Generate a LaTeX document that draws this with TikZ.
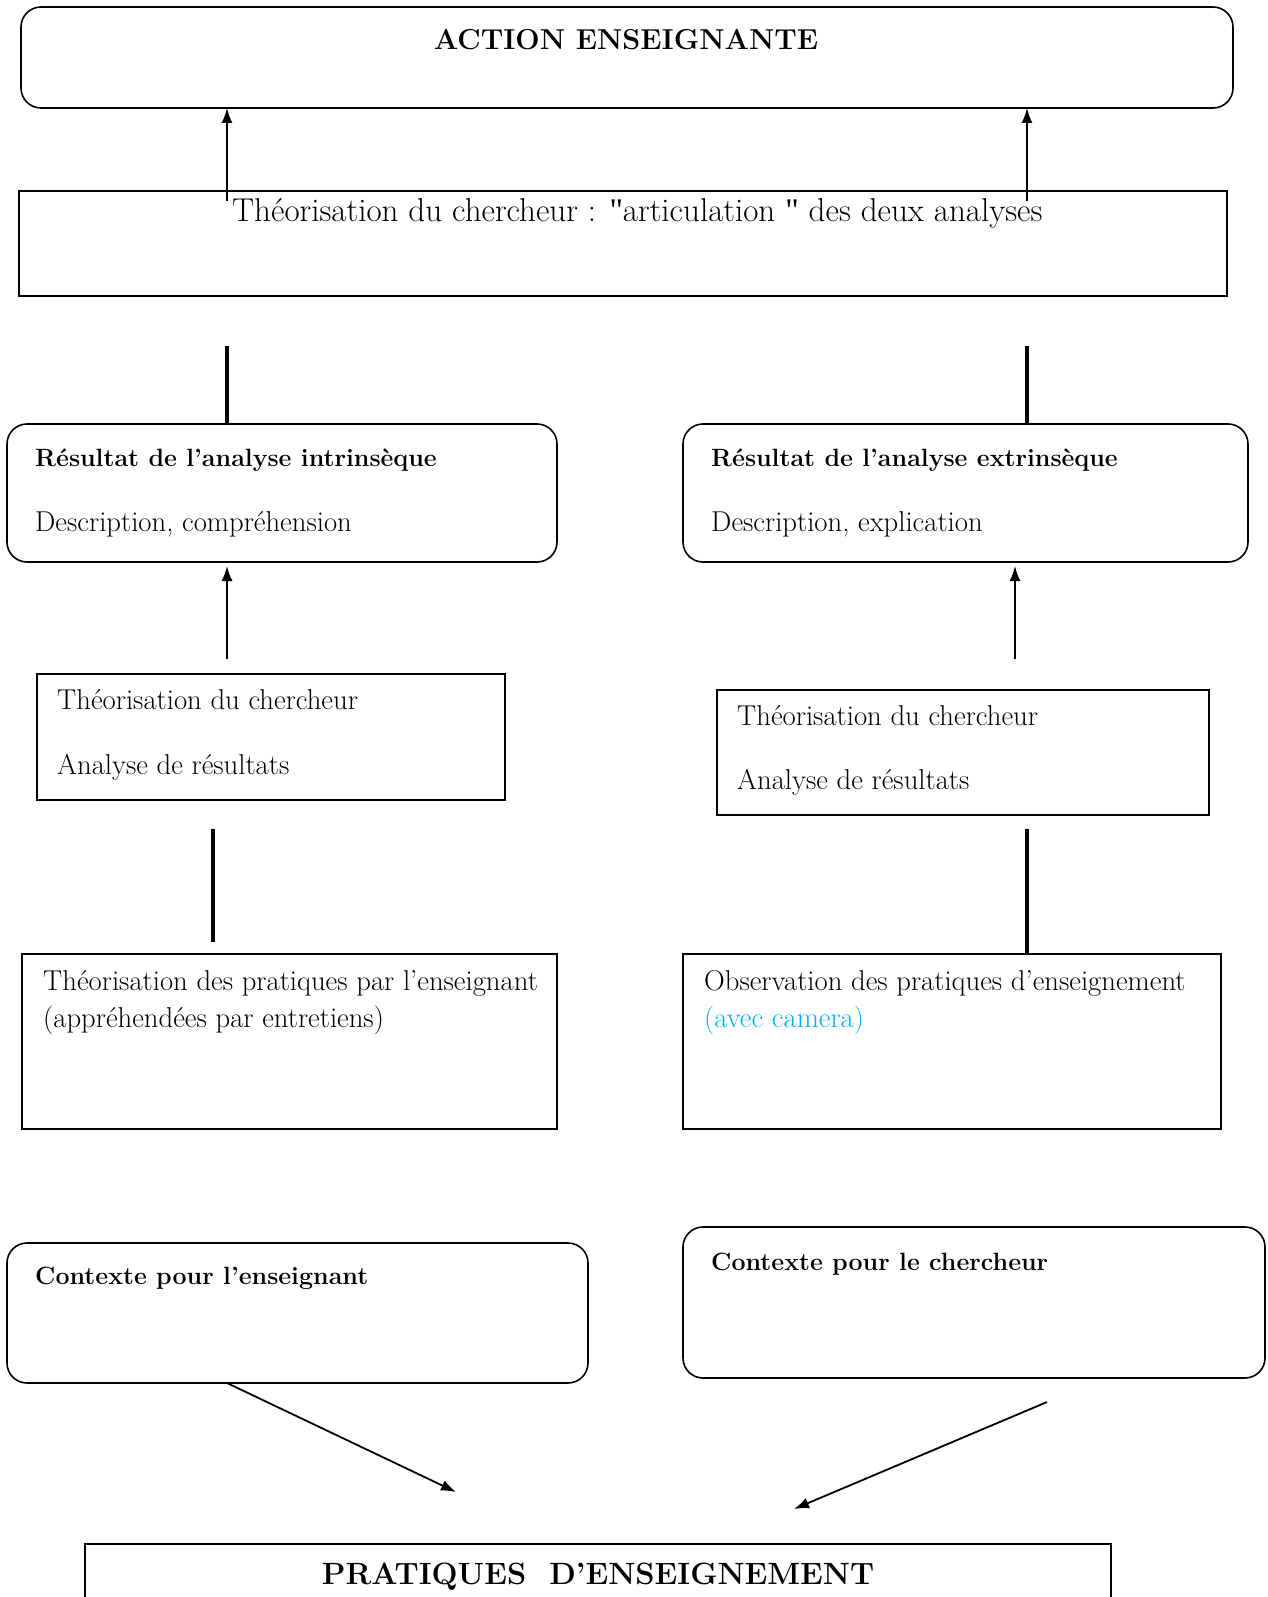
\documentclass[tikz,border=0pt]{standalone}
\usepackage{fontspec}
\newfontfamily\qf{Liberation Serif}
\usetikzlibrary{arrows.meta}
\definecolor{camcyan}{RGB}{0,176,240}
\tikzset{
  box/.style={draw, line width=1.6pt, anchor=north west, inner sep=0pt, outer sep=0pt},
  rbox/.style={box, rounded corners=20pt},
  txt/.style={anchor=base west, inner sep=0pt, font=\fontsize{28.7}{34}\selectfont},
  btxt/.style={anchor=base west, inner sep=0pt, font=\fontsize{25}{30}\selectfont\bfseries},
  arr/.style={line width=1.8pt, -{Latex[length=15pt,width=11pt]}},
  heavy/.style={line width=4.5pt},
}
\begin{document}
\begin{tikzpicture}[x=1pt,y=-1pt]
\useasboundingbox (0,0) rectangle (1267,1597);
% boxes
\node[rbox, minimum width=1212pt, minimum height=101pt] (action) at (21,7) {};
\node[box, minimum width=1208pt, minimum height=105pt] (theo) at (19,191) {};
\node[rbox, minimum width=550pt, minimum height=138pt] (resI) at (7,424) {};
\node[rbox, minimum width=565pt, minimum height=138pt] (resE) at (683,424) {};
\node[box, minimum width=468pt, minimum height=126pt] (chL) at (37,674) {};
\node[box, minimum width=492pt, minimum height=125pt] (chR) at (717,690) {};
\node[box, minimum width=535pt, minimum height=175pt] (pratL) at (22,954) {};
\node[box, minimum width=538pt, minimum height=175pt] (pratR) at (683,954) {};
\node[rbox, minimum width=581pt, minimum height=140pt] (ctxL) at (7,1243) {};
\node[rbox, minimum width=582pt, minimum height=151pt] (ctxR) at (683,1227) {};
\node[box, minimum width=1026pt, minimum height=96pt] (prat) at (85,1544) {};
% texts
\node[anchor=base, inner sep=0pt, font=\fontsize{28.8}{34}\selectfont\bfseries] (actiontxt) at (626,50) {ACTION ENSEIGNANTE};
\node[anchor=base west, inner sep=0pt, font=\fontsize{33}{40}\selectfont] (theotxt) at (232,222) {Théorisation du chercheur : {\qf"}articulation {\qf"} des deux analyses};
\node[btxt] (resItitle) at (35,466) {Résultat de l’analyse intrinsèque};
\node[txt] (resIsub) at (35,531) {Description, compréhension};
\node[btxt] (resEtitle) at (711,466) {Résultat de l’analyse extrinsèque};
\node[txt] (resEsub) at (711,531) {Description, explication};
\node[txt] (chL1) at (57,709) {Théorisation du chercheur};
\node[txt] (chL2) at (57,774) {Analyse de résultats};
\node[txt] (chR1) at (737,725) {Théorisation du chercheur};
\node[txt] (chR2) at (737,789) {Analyse de résultats};
\node[txt] (pratL1) at (43,990) {Théorisation des pratiques par l’enseignant};
\node[txt] (pratL2) at (43,1027) {(appréhendées par entretiens)};
\node[txt] (pratR1) at (704,990) {Observation des pratiques d’enseignement};
\node[txt, text=camcyan] (pratR2) at (704,1027) {(avec camera)};
\node[btxt] (ctxLtxt) at (35,1284) {Contexte pour l’enseignant};
\node[btxt] (ctxRtxt) at (711,1270) {Contexte pour le chercheur};
\node[anchor=base, inner sep=0pt, font=\fontsize{30.8}{37}\selectfont\bfseries] (pratxt) at (598,1584) {PRATIQUES\ \ D’ENSEIGNEMENT};
% connectors
\coordinate (t1) at (227,201);
\coordinate (t2) at (1027,201);
\draw[arr] (t1) -- (t1 |- action.south);
\draw[arr] (t2) -- (t2 |- action.south);
\coordinate (h1) at (227,346);
\coordinate (h2) at (1027,346);
\draw[heavy] (h1) -- (h1 |- resI.north);
\draw[heavy] (h2) -- (h2 |- resE.north);
\coordinate (a1) at (227,659);
\coordinate (a2) at (1015,659);
\draw[arr, shorten >=4pt] (a1) -- (a1 |- resI.south);
\draw[arr, shorten >=4pt] (a2) -- (a2 |- resE.south);
\coordinate (h3) at (213,829);
\coordinate (h4) at (1027,829);
\draw[heavy, shorten >=12pt] (h3) -- (h3 |- pratL.north);
\draw[heavy] (h4) -- (h4 |- pratR.north);
\coordinate (c1) at (227,1383);
\coordinate (e1) at (456,1492);
\draw[arr] (c1) -- (e1);
\coordinate (c2) at (1047,1402);
\coordinate (e2) at (794,1509);
\draw[arr] (c2) -- (e2);
\end{tikzpicture}
\end{document}
